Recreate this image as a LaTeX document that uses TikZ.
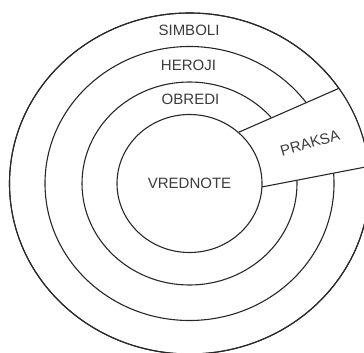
\documentclass[tikz,border=0pt]{standalone}
\usepackage{fontspec}
\setmainfont{Liberation Sans}
\usepackage{xcolor}
\definecolor{ringline}{RGB}{40,40,40}
\definecolor{ringtext}{RGB}{60,60,60}
\usepackage{tikz}
\usetikzlibrary{calc}

\begin{document}
\begin{tikzpicture}[x=1pt, y=-1pt,
    ring/.style={draw=ringline, line width=1.1pt, fill=white},
    lbl/.style={font=\fontsize{15}{18}\selectfont, text=ringtext, inner sep=0pt}]
  \useasboundingbox (0,0) rectangle (364,353);
  \clip (0,0) rectangle (364,353);
  \coordinate (ctr) at (189.5,183.5);
  % Rings, outside in
  \draw[ring] (ctr) ellipse [x radius=180, y radius=170.5];
  \draw[ring] (ctr) ellipse [x radius=144.5, y radius=137];
  \draw[ring] (ctr) ellipse [x radius=107.5, y radius=101.5];
  % Practice band across the rings, cut by the outer ring
  \coordinate (up1) at (240,131.7);
  \coordinate (up2) at (339,88.3);
  \coordinate (lo1) at (263.3,186.7);
  \coordinate (lo2) at (364,167.3);
  \begin{scope}
    \clip (ctr) ellipse [x radius=180, y radius=170.5];
    \draw[ring] ($(up1)!-0.3!(up2)$) -- ($(up1)!1.8!(up2)$)
      -- ($(lo1)!1.6!(lo2)$) -- ($(lo1)!-0.3!(lo2)$) -- cycle;
  \end{scope}
  \draw[ring, fill=none] (ctr) ellipse [x radius=180, y radius=170.5];
  % Core
  \draw[ring] (ctr) ellipse [x radius=72.5, y radius=69];
  % Labels
  \node[lbl] (simboli) at (189,30) {SIMBOLI};
  \node[lbl] (heroji) at (188.5,65) {HEROJI};
  \node[lbl] (obredi) at (190.5,99) {OBREDI};
  \node[lbl] (vrednote) at (189.5,183) {VREDNOTE};
  \node[lbl, rotate=16] (praksa) at (310,143) {PRAKSA};
\end{tikzpicture}
\end{document}
